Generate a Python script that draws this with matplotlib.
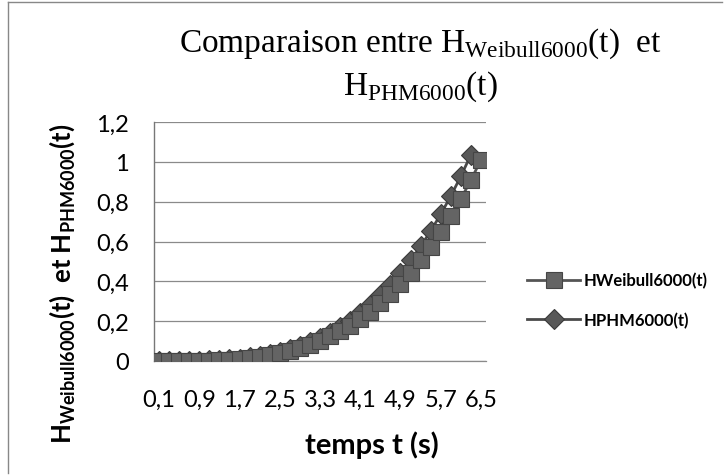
import matplotlib
matplotlib.use("Agg")
import matplotlib.pyplot as plt
import numpy as np
from matplotlib.lines import Line2D

plt.rcParams['mathtext.fontset'] = 'custom'
plt.rcParams['mathtext.rm'] = 'Liberation Serif'
plt.rcParams['mathtext.bf'] = 'Lato:bold'

# ---- data ----
categories = ["0,1", "0,3", "0,5", "0,7", "0,9", "1,1", "1,3", "1,5", "1,7", "1,9",
              "2,1", "2,3", "2,5", "2,7", "2,9", "3,1", "3,3", "3,5", "3,7", "3,9",
              "4,1", "4,3", "4,5", "4,7", "4,9", "5,1", "5,3", "5,5", "5,7", "5,9",
              "6,1", "6,3", "6,5"]
h_weibull = [0.0000, 0.0000, 0.0002, 0.0005, 0.0012, 0.0024, 0.0042, 0.0069, 0.0106, 0.0155,
             0.0217, 0.0295, 0.0392, 0.0510, 0.0650, 0.0815, 0.1008, 0.1231, 0.1487, 0.1779,
             0.2109, 0.2480, 0.2894, 0.3355, 0.3866, 0.4428, 0.5047, 0.5723, 0.6462, 0.7264,
             0.8138, 0.9084, 1.0100]
h_phm = [0.0000, 0.0000, 0.0002, 0.0006, 0.0014, 0.0027, 0.0048, 0.0079, 0.0121, 0.0177,
         0.0247, 0.0336, 0.0447, 0.0581, 0.0741, 0.0929, 0.1149, 0.1403, 0.1695, 0.2028,
         0.2404, 0.2827, 0.3299, 0.3825, 0.4407, 0.5048, 0.5754, 0.6524, 0.7367, 0.8281,
         0.9277, 1.0356, np.nan]
y_ticks = [0, 0.2, 0.4, 0.6, 0.8, 1.0, 1.2]
y_ticklabels = ["0", "0,2", "0,4", "0,6", "0,8", "1", "1,2"]
label_step = 4

W, H = 727, 477
fig = plt.figure(figsize=(W / 100, H / 100), dpi=100)
fig.patch.set_facecolor('white')

# plot area
L, R, T, B = 154, 486, 123, 362
ax = fig.add_axes([L / W, 1 - B / H, (R - L) / W, (B - T) / H])

x = np.arange(len(categories))
ax.plot(x, h_weibull, color='#555555', lw=2, marker='s', ms=11.5,
        mfc='#646464', mec='#454545', mew=0.8, label='HWeibull6000(t)', zorder=4)
ax.plot(x, h_phm, color='#4a4a4a', lw=2, marker='D', ms=10.5,
        mfc='#585858', mec='#3a3a3a', mew=0.8, label='HPHM6000(t)', zorder=3)

ax.set_xlim(-0.5, len(categories) - 0.5)
ax.set_ylim(0, 1.2)
ax.set_yticks(y_ticks)
ax.set_yticklabels(y_ticklabels, family='Lato', fontsize=17)
ax.set_xticks(x[::label_step])
ax.set_xticklabels(categories[::label_step], family='Lato', fontsize=17)
ax.tick_params(axis='y', length=0, pad=18)
ax.tick_params(axis='x', length=0, pad=20)
ax.yaxis.grid(True, color='#8a8a8a', lw=0.9)
ax.set_axisbelow(True)
for s in ['top', 'right']:
    ax.spines[s].set_visible(False)
ax.spines['left'].set_color('#777777')
ax.spines['bottom'].set_color('#8a8a8a')
ax.spines['left'].set_linewidth(1.0)
ax.spines['bottom'].set_linewidth(0.9)

# title (two lines)
fig.text(420 / W, 1 - 52 / H, r"Comparaison entre H$_{\mathrm{Weibull6000}}$(t)  et",
         ha='center', va='baseline', family='Liberation Serif', fontsize=24)
fig.text(420 / W, 1 - 95 / H, r"H$_{\mathrm{PHM6000}}$(t)",
         ha='center', va='baseline', family='Liberation Serif', fontsize=24)

# axis labels
fig.text(372 / W, 1 - 445 / H, "temps t (s)", ha='center', va='center',
         family='Lato', fontweight='bold', fontsize=21)
fig.text(62 / W, 1 - 284 / H, r"H$_{\mathbf{Weibull6000}}$(t)  et H$_{\mathbf{PHM6000}}$(t)",
         ha='center', va='center', rotation=90, family='Lato', fontweight='bold', fontsize=18.5)

# legend
leg = ax.legend(loc='center left', bbox_to_anchor=(527 / W, 1 - 301 / H),
                bbox_transform=fig.transFigure, frameon=False,
                prop={'family': 'Lato', 'weight': 'bold', 'size': 12},
                handlelength=3.2, handletextpad=0.2, labelspacing=1.4,
                borderpad=0, borderaxespad=0)

# chart border (left and top)
fig.add_artist(Line2D([8 / W, 8 / W], [1 - 3 / H, 1 - 474 / H], transform=fig.transFigure,
                      color='#888888', lw=1))
fig.add_artist(Line2D([8 / W, 722 / W], [1 - 3 / H, 1 - 3 / H], transform=fig.transFigure,
                      color='#888888', lw=1))

fig.savefig('out.png', dpi=100)
